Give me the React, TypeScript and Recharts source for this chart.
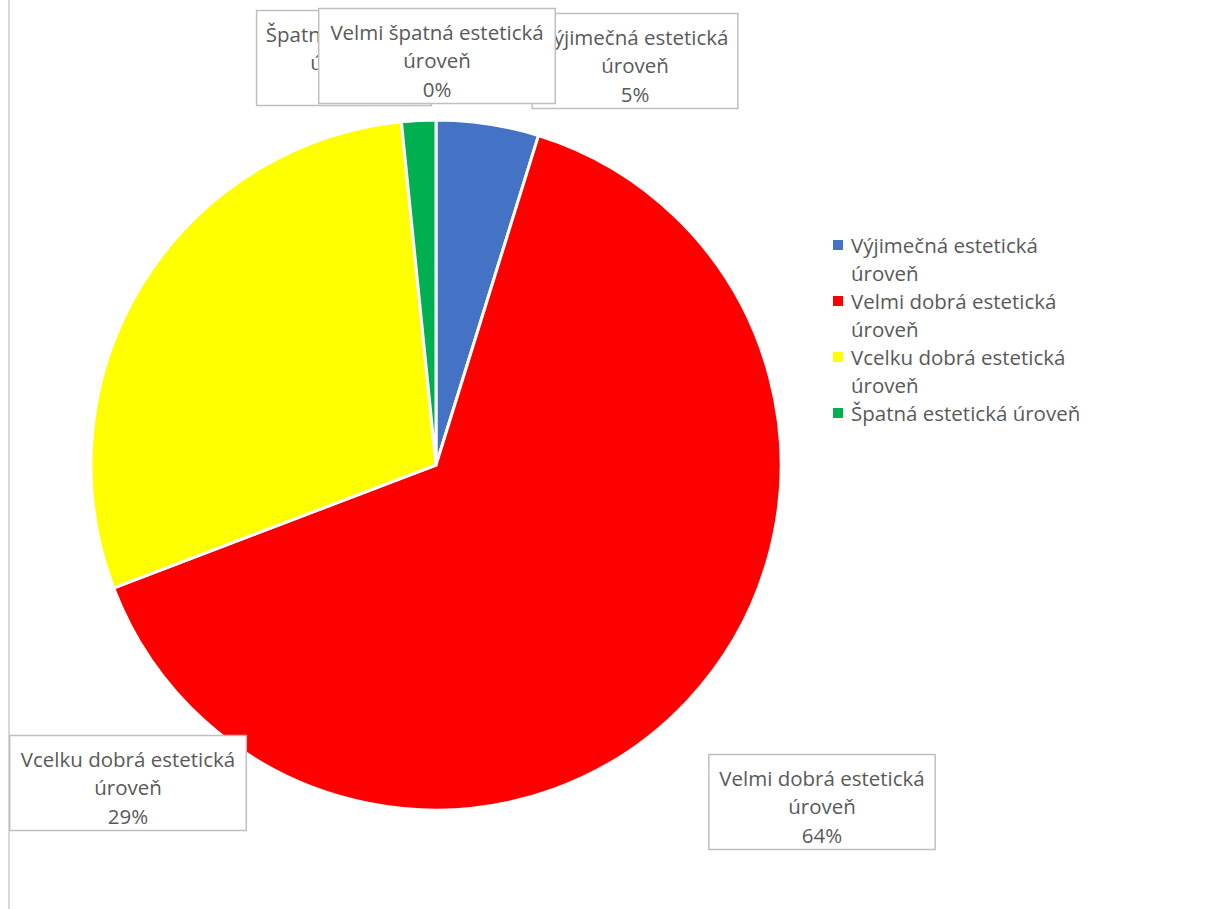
import { PieChart, Pie, Cell, Legend } from 'recharts';

const categories = [
  'Výjimečná estetická úroveň',
  'Velmi dobrá estetická úroveň',
  'Vcelku dobrá estetická úroveň',
  'Špatná estetická úroveň',
  'Velmi špatná estetická úroveň',
];
const shares = [4.8, 64.4, 29.2, 1.6, 0];
const colors = ['#4472C4', '#FF0000', '#FFFF00', '#00B050', '#7030A0'];

// callout box centres, relative to the pie centre (Excel placed them by hand)
const labelOffsets = [
  [199, -404],
  [386, 337],
  [-308, 318],
  [-92, -407],
  [1, -409],
];

const FONT = '"Open Sans", sans-serif';
const TEXT = '#595959';

const data = categories.map((name, i) => ({ name, value: shares[i] }));

function renderLabel(props: any) {
  const { cx, cy, index, name, percent } = props;
  const [dx, dy] = labelOffsets[index];
  const words = String(name).split(' ');
  const lines = [words.slice(0, -1).join(' '), words[words.length - 1], `${Math.round(percent * 100)}%`];
  const w = lines[0].length * 10.3 + 10;
  const h = 95;
  const x = cx + dx;
  const y = cy + dy;
  return (
    <g key={`lbl-${index}`}>
      <rect x={x - w / 2} y={y - h / 2} width={w} height={h} fill="#fff" stroke="#BFBFBF" strokeWidth={1.5} />
      {lines.map((t, j) => (
        <text
          key={j}
          x={x}
          y={y - h / 2 + 23 + j * 28.5}
          textAnchor="middle"
          dominantBaseline="central"
          fill={TEXT}
          fontSize={20.5}
          fontFamily={FONT}
        >
          {t}
        </text>
      ))}
    </g>
  );
}

function renderLegend() {
  return (
    <div style={{ fontFamily: FONT, fontSize: 20.5, color: TEXT, lineHeight: '28px' }}>
      {categories.map((name, i) =>
        shares[i] > 0 ? (
          <div key={name} style={{ display: 'flex', alignItems: 'flex-start' }}>
            <span
              style={{ width: 10, height: 10, background: colors[i], marginTop: 9, marginRight: 8, flex: 'none' }}
            />
            <span style={{ width: 250 }}>{name}</span>
          </div>
        ) : null,
      )}
    </div>
  );
}

export default function App() {
  return (
    <div style={{ position: 'absolute', left: 0, top: 0, width: 1208, height: 909, background: '#fff' }}>
      <div style={{ position: 'absolute', left: 8, top: 0, width: 2, height: 909, background: '#D9D9D9' }} />
      <PieChart
        width={1208}
        height={909}
        margin={{ top: 0, right: 0, bottom: 0, left: 0 }}
        style={{ position: 'absolute', left: 0, top: 0 }}
      >
        <Pie
          data={data}
          dataKey="value"
          nameKey="name"
          cx={436}
          cy={465}
          outerRadius={345}
          startAngle={90}
          endAngle={-270}
          stroke="#fff"
          strokeWidth={3}
          label={renderLabel}
          labelLine={false}
          isAnimationActive={false}
        >
          {data.map((d, i) => (
            <Cell key={d.name} fill={colors[i]} />
          ))}
        </Pie>
        <Legend
          layout="vertical"
          align="right"
          verticalAlign="top"
          content={renderLegend}
          wrapperStyle={{ left: 833, top: 231, width: 280 }}
        />
      </PieChart>
    </div>
  );
}
